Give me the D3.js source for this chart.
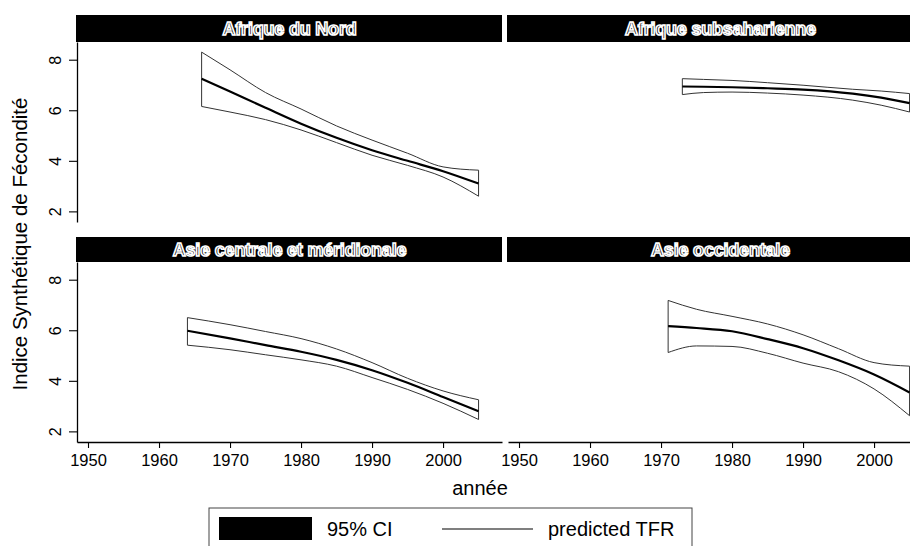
<!DOCTYPE html>
<html>
<head>
<meta charset="utf-8">
<script src="https://cdn.jsdelivr.net/npm/d3@7"></script>
<style>
  html, body { margin: 0; padding: 0; background: #fff; }
  svg { display: block; font-family: "Liberation Sans", Arial, Helvetica, sans-serif; }
</style>
</head>
<body>
<svg id="chart" width="910" height="546"></svg>
<script>
// Regions shown as facets, in reading order
const regions = ["Afrique du Nord", "Afrique subsaharienne",
                 "Asie centrale et méridionale", "Asie occidentale"];

// Predicted total fertility rate with its 95% confidence bounds, by region
const nordYears = [1966, 1970, 1975, 1980, 1985, 1990, 1995, 2000, 2005];
const nordPred  = [7.25, 6.74, 6.10, 5.47, 4.91, 4.42, 4.00, 3.59, 3.10];
const nordLow   = [6.15, 5.93, 5.63, 5.22, 4.72, 4.22, 3.82, 3.36, 2.60];
const nordHigh  = [8.30, 7.60, 6.70, 6.05, 5.38, 4.82, 4.30, 3.76, 3.63];

const subsYears = [1973, 1976, 1980, 1985, 1990, 1997, 2001, 2005];
const subsPred  = [6.94, 6.93, 6.91, 6.87, 6.82, 6.66, 6.50, 6.28];
const subsLow   = [6.62, 6.70, 6.72, 6.68, 6.60, 6.40, 6.20, 5.93];
const subsHigh  = [7.25, 7.22, 7.18, 7.09, 6.99, 6.83, 6.76, 6.66];

const centYears = [1964, 1970, 1975, 1980, 1985, 1990, 1995, 2000, 2005];
const centPred  = [5.98, 5.68, 5.41, 5.15, 4.83, 4.42, 3.92, 3.36, 2.80];
const centLow   = [5.41, 5.23, 5.03, 4.83, 4.58, 4.13, 3.66, 3.11, 2.47];
const centHigh  = [6.50, 6.22, 5.95, 5.67, 5.26, 4.72, 4.10, 3.60, 3.25];

const occYears  = [1971, 1975, 1980, 1985, 1990, 1995, 2000, 2005];
const occPred   = [6.16, 6.09, 5.96, 5.65, 5.29, 4.81, 4.25, 3.54];
const occLow    = [5.12, 5.38, 5.36, 5.09, 4.70, 4.36, 3.68, 2.62];
const occHigh   = [7.18, 6.83, 6.55, 6.25, 5.82, 5.27, 4.72, 4.58];

// Axis ticks and labels
const xTicks = [1950, 1960, 1970, 1980, 1990, 2000];
const yTicks = [2, 4, 6, 8];
const xTitle = "année";
const yTitle = "Indice Synthétique de Fécondité";
const legendLabels = ["95% CI", "predicted TFR"];

const series = [
  {years: nordYears, pred: nordPred, low: nordLow, high: nordHigh},
  {years: subsYears, pred: subsPred, low: subsLow, high: subsHigh},
  {years: centYears, pred: centPred, low: centLow, high: centHigh},
  {years: occYears,  pred: occPred,  low: occLow,  high: occHigh}
];

// Layout of the 2x2 grid of panels
const panelW = 425, panelH = 180;
const colX = [77, 508];
const rowY = [42, 262];
const stripH = [27, 25];

const svg = d3.select("#chart");

const x = d3.scaleLinear().domain([1948.45, 2008.3]).range([0, panelW]);
const y = d3.scaleLinear().domain([1.58, 8.7]).range([panelH, 0]);

const area = d3.area()
  .x(d => x(d.year)).y0(d => y(d.low)).y1(d => y(d.high))
  .curve(d3.curveMonotoneX);
const line = d3.line()
  .x(d => x(d.year)).y(d => y(d.pred))
  .curve(d3.curveMonotoneX);

regions.forEach((name, i) => {
  const col = i % 2, row = Math.floor(i / 2);
  const g = svg.append("g").attr("transform", `translate(${colX[col]},${rowY[row]})`);

  // strip with the region name, drawn as outlined lettering
  g.append("rect")
    .attr("x", -1).attr("y", -stripH[row])
    .attr("width", panelW + 1).attr("height", stripH[row])
    .attr("fill", "#000");
  g.append("text")
    .attr("x", panelW / 2).attr("y", -stripH[row] / 2)
    .attr("dy", "0.36em")
    .attr("text-anchor", "middle")
    .attr("font-size", 18).attr("font-weight", "bold")
    .attr("fill", "#111").attr("stroke", "#fff").attr("stroke-width", 1.6)
    .attr("letter-spacing", -0.2)
    .text(name);

  const s = series[i];
  const pts = s.years.map((yr, k) => ({year: yr, pred: s.pred[k], low: s.low[k], high: s.high[k]}));

  // confidence band
  g.append("path")
    .attr("d", area(pts))
    .attr("fill", "#fff").attr("stroke", "#333").attr("stroke-width", 1);

  // predicted TFR
  g.append("path")
    .attr("d", line(pts))
    .attr("fill", "none").attr("stroke", "#000").attr("stroke-width", 2.2);

  // left axis on the first column
  if (col === 0) {
    const ya = g.append("g")
      .call(d3.axisLeft(y).tickValues(yTicks).tickSize(8).tickSizeOuter(0).tickFormat(d3.format("d")));
    ya.select(".domain").attr("stroke-width", 1.3);
    ya.selectAll(".tick line").attr("stroke-width", 1.1);
    ya.selectAll(".tick text")
      .attr("transform", "rotate(-90)")
      .attr("x", 0).attr("y", -16).attr("dy", 0)
      .attr("text-anchor", "middle")
      .attr("font-size", 16).attr("fill", "#000");
  }

  // bottom axis on the second row
  if (row === 1) {
    const xa = g.append("g")
      .attr("transform", `translate(0,${panelH})`)
      .call(d3.axisBottom(x).tickValues(xTicks).tickSize(6).tickSizeOuter(0).tickFormat(d3.format("d")));
    xa.select(".domain").attr("stroke-width", 1.3);
    xa.selectAll(".tick line").attr("stroke-width", 1.1);
    xa.selectAll(".tick text")
      .attr("y", 12)
      .attr("font-size", 16.5).attr("fill", "#000");
  }
});

// axis titles
svg.append("text")
  .attr("x", 480).attr("y", 495)
  .attr("text-anchor", "middle")
  .attr("font-size", 20)
  .text(xTitle);

svg.append("text")
  .attr("transform", "translate(27,244) rotate(-90)")
  .attr("text-anchor", "middle")
  .attr("font-size", 20.5)
  .text(yTitle);

// legend
const lg = svg.append("g");
lg.append("rect")
  .attr("x", 209).attr("y", 508).attr("width", 483).attr("height", 60)
  .attr("fill", "#fff").attr("stroke", "#444").attr("stroke-width", 1);
lg.append("rect")
  .attr("x", 219).attr("y", 517).attr("width", 93).attr("height", 23)
  .attr("fill", "#000");
lg.append("text")
  .attr("x", 327).attr("y", 536)
  .attr("font-size", 20)
  .text(legendLabels[0]);
lg.append("line")
  .attr("x1", 442).attr("x2", 533).attr("y1", 529).attr("y2", 529)
  .attr("stroke", "#000").attr("stroke-width", 1.2);
lg.append("text")
  .attr("x", 548).attr("y", 536)
  .attr("font-size", 20)
  .text(legendLabels[1]);
</script>
</body>
</html>
